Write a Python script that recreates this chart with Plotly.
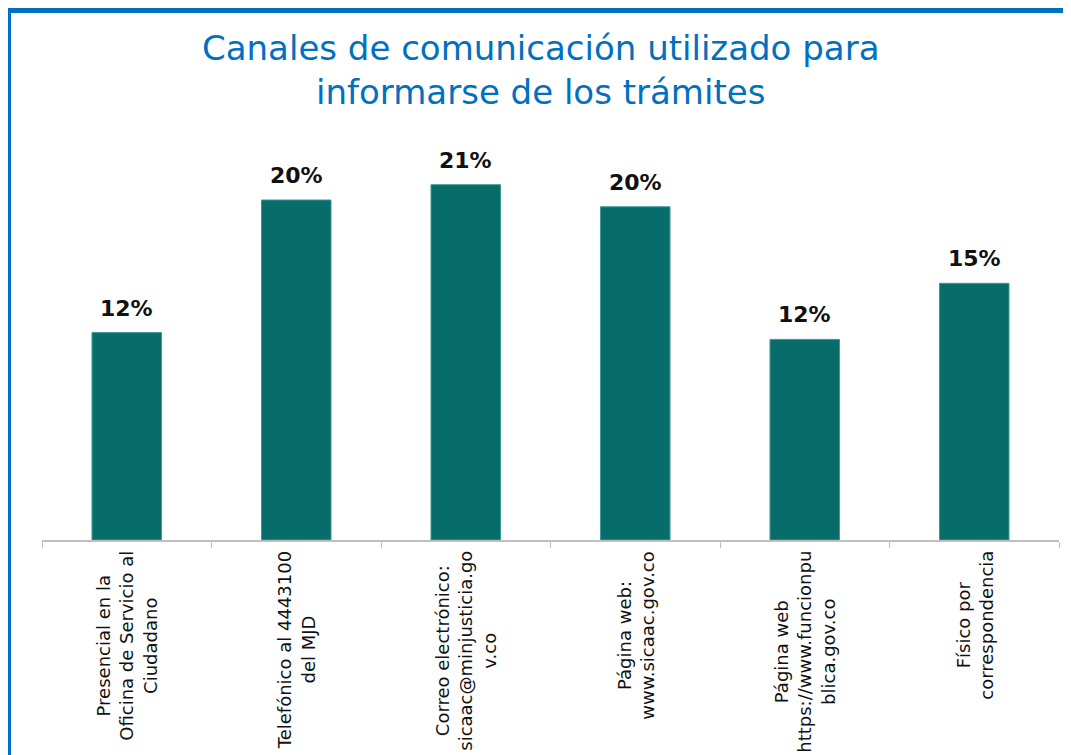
import plotly.graph_objects as go

# Data
canales = [
    "Presencial en la<br>Oficina de Servicio al<br>Ciudadano",
    "Telefónico al 4443100<br>del MJD",
    "Correo electrónico:<br>sicaac@minjusticia.go<br>v.co",
    "Página web:<br>www.sicaac.gov.co",
    "Página web<br>https://www.funcionpu<br>blica.gov.co",
    "Físico por<br>correspondencia",
]
porcentajes = [12.2, 20.0, 20.9, 19.6, 11.8, 15.1]
titulo = "Canales de comunicación utilizado para<br>informarse de los trámites"

# page body adds an 8px margin, so the figure is 8px smaller each way
W, H = 1063, 747
L, R, T, B = 34, 12, 141, 215
BLUE = "#0070C0"
TEAL = "#086C6A"
FONT = "DejaVu Sans"

fig = go.Figure()
fig.add_trace(go.Bar(
    x=canales,
    y=porcentajes,
    marker=dict(color=TEAL, line=dict(color="#3A9A97", width=1)),
    hoverinfo="skip",
))

pw, ph = W - L - R, H - T - B
px = lambda v: (v - L) / pw
py = lambda v: (H - B - v) / ph

# value labels above the bars
for c, v in zip(canales, porcentajes):
    fig.add_annotation(
        x=c, y=v, xref="x", yref="y",
        text=f"<b>{v:.0f}%</b>", showarrow=False,
        xanchor="center", yanchor="bottom", yshift=10,
        font=dict(family=FONT, size=22, color="#111111"),
    )

# rotated, centred category labels under the axis
for c in canales:
    fig.add_annotation(
        x=c, y=0, xref="x", yref="paper",
        text=c, textangle=-90, align="center",
        xanchor="center", yanchor="top", yshift=-9,
        showarrow=False,
        font=dict(family=FONT, size=18, color="#111111"),
    )

# title
fig.add_annotation(
    x=px(532), y=py(62), xref="paper", yref="paper",
    text=titulo, showarrow=False, align="center",
    xanchor="center", yanchor="middle",
    font=dict(family=FONT, size=34, color=BLUE),
)

# blue frame (top and left edges)
fig.add_shape(type="line", xref="paper", yref="paper",
              x0=px(-1), x1=px(W + 5), y0=py(2.5), y1=py(2.5),
              line=dict(color=BLUE, width=5))
fig.add_shape(type="line", xref="paper", yref="paper",
              x0=px(1), x1=px(1), y0=py(0), y1=py(H + 5),
              line=dict(color=BLUE, width=4))

fig.update_layout(
    width=W, height=H,
    margin=dict(l=L, r=R, t=T, b=B),
    paper_bgcolor="white", plot_bgcolor="white",
    bargap=0.59,
    showlegend=False,
    xaxis=dict(
        showticklabels=False, showgrid=False,
        showline=True, linecolor="#BFBFBF", linewidth=1.5,
        ticks="outside", tickson="boundaries", ticklen=6, tickcolor="#BFBFBF",
    ),
    yaxis=dict(range=[0, 23], visible=False, showgrid=False),
)

fig.write_html("out.html")
